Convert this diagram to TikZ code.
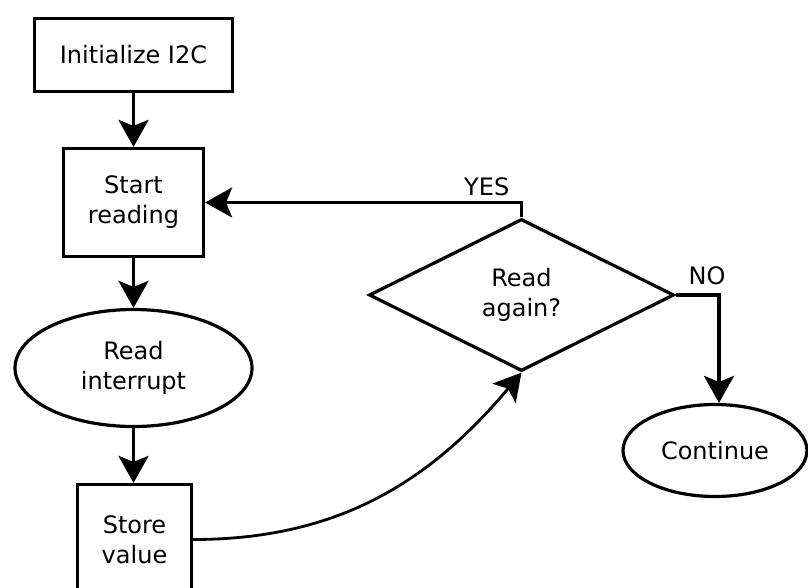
\documentclass[tikz,border=0pt]{standalone}
\usepackage{fontspec}
\setmainfont{DejaVu Sans}
\usetikzlibrary{shapes.geometric,arrows.meta}
\begin{document}
\begin{tikzpicture}[x=1pt,y=-1pt,
  every node/.style={font=\fontsize{24}{30}\selectfont},
  boxnode/.style={draw, line width=3.2pt, inner sep=0pt, align=center},
  ellnode/.style={draw, ellipse, line width=3.2pt, inner sep=0pt, align=center},
  decnode/.style={draw, diamond, line width=3.2pt, inner sep=0pt, align=center},
  flow/.style={line width=3.2pt, -{Stealth[length=27pt,width=30pt,inset=6pt]}},
  tag/.style={inner sep=0pt}]
\useasboundingbox (0,0) rectangle (808,587);
\clip (0,0) rectangle (808,587);

\node[boxnode, minimum width=198pt, minimum height=73pt] (init) at (133.5,55) {Initialize I2C};
\node[boxnode, minimum width=140pt, minimum height=108pt] (start) at (133.5,202.5) {Start\\reading};
\node[ellnode, minimum width=237pt, minimum height=117pt] (intr) at (133.5,368) {Read\\interrupt};
\node[boxnode, minimum width=114pt, minimum height=110pt] (store) at (134.5,539.5) {Store\\value};
\node[decnode, minimum width=305pt, minimum height=152pt] (again) at (521.5,295) {Read\\again?};
\node[ellnode, minimum width=184pt, minimum height=92pt] (cont) at (715,450.5) {Continue};

\coordinate (yesbend) at (again.north |- start.east);
\coordinate (nobend) at (719,0 |- again.east);

\draw[flow] (init) -- (start);
\draw[flow] (start) -- (intr);
\draw[flow] (intr.south) -- (intr.south |- store.north);
\draw[flow, line width=2.8pt] (store.east) to[out=0, in=-130] (again.south);
\draw[flow] (again.north) -- (yesbend) -- (start.east);
\draw[flow] (again.east) -- (nobend) -- (nobend |- cont.north);

\node[tag, anchor=south east] (yes) at ([xshift=-12pt,yshift=6pt]yesbend) {YES};
\node[tag, anchor=south] (no) at ([xshift=-12pt,yshift=10pt]nobend) {NO};
\end{tikzpicture}
\end{document}
